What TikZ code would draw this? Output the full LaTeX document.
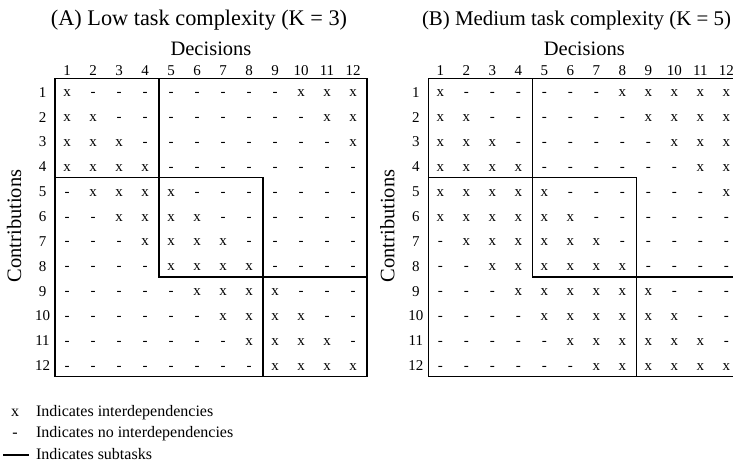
\documentclass[tikz,border=0pt]{standalone}
\usepackage{fontspec}
\setmainfont{Liberation Serif}
\newcommand\fsz[1]{\fontsize{#1}{#1}\selectfont}
\tikzset{
  allnode/.style={inner sep=0pt, outer sep=0pt},
  ttl/.style={allnode, anchor=base},
  dec/.style={allnode, anchor=base, font=\fsz{20.5}},
  contrib/.style={allnode, anchor=center, rotate=90, font=\fsz{20.5}},
  digit/.style={allnode, anchor=base, font=\fsz{15}},
  cell/.style={allnode, anchor=base, font=\fsz{15}},
  leg/.style={allnode, anchor=base, font=\fsz{16}},
  legtxt/.style={allnode, anchor=base west, font=\fsz{16}},
  box/.style={line width=1.5pt, line cap=rect},
  legline/.style={line width=1.7pt},
}
% #1 prefix, #2 left x, #3 title centre x, #4 title, #5 data
\newcommand\drawpanel[5]{%
  \node[ttl] (#1-title) at (#3,25) {#4};
  \node[dec] (#1-dec) at ({#2+156},55) {Decisions};
  \node[contrib] (#1-con) at ({#2-41},226) {Contributions};
  \foreach \k in {1,...,12} {
    \node[digit] (#1-h\k) at ({#2+26*\k-13-1},75) {\k};
  }
  \foreach \r in {1,...,12} {
    \node[digit] (#1-l\r) at ({#2-12.5},{78.3+24.85*\r-12.4+6.5}) {\r};
  }
  \foreach \row [count=\r] in {#5} {
    \foreach \v [count=\k] in \row {
      \node[cell] (#1-c\r-\k) at ({#2+26*\k-13-1},{78.3+24.85*\r-12.4+6}) {\v};
    }
  }
  \draw[box] (#2,78.3) rectangle ({#2+312},376.5);
  \draw[box] (#2,78.3) rectangle ({#2+104},{78.3+4*24.85});
  \draw[box] ({#2+104},{78.3+4*24.85}) rectangle ({#2+208},{78.3+8*24.85});
  \draw[box] ({#2+208},{78.3+8*24.85}) rectangle ({#2+312},376.5);
}
\begin{document}
\begin{tikzpicture}[x=1pt,y=-1pt]
\useasboundingbox (0,0) rectangle (733,469);
\clip (0,0) rectangle (733,469);
\drawpanel{A}{55}{199}{\fsz{22.3}(A) Low task complexity (K = 3)}{%
{x,-,-,-,-,-,-,-,-,x,x,x},
{x,x,-,-,-,-,-,-,-,-,x,x},
{x,x,x,-,-,-,-,-,-,-,-,x},
{x,x,x,x,-,-,-,-,-,-,-,-},
{-,x,x,x,x,-,-,-,-,-,-,-},
{-,-,x,x,x,x,-,-,-,-,-,-},
{-,-,-,x,x,x,x,-,-,-,-,-},
{-,-,-,-,x,x,x,x,-,-,-,-},
{-,-,-,-,-,x,x,x,x,-,-,-},
{-,-,-,-,-,-,x,x,x,x,-,-},
{-,-,-,-,-,-,-,x,x,x,x,-},
{-,-,-,-,-,-,-,-,x,x,x,x}}
\drawpanel{B}{428.3}{576.5}{\fsz{20.9}(B) Medium task complexity (K = 5)}{%
{x,-,-,-,-,-,-,x,x,x,x,x},
{x,x,-,-,-,-,-,-,x,x,x,x},
{x,x,x,-,-,-,-,-,-,x,x,x},
{x,x,x,x,-,-,-,-,-,-,x,x},
{x,x,x,x,x,-,-,-,-,-,-,x},
{x,x,x,x,x,x,-,-,-,-,-,-},
{-,x,x,x,x,x,x,-,-,-,-,-},
{-,-,x,x,x,x,x,x,-,-,-,-},
{-,-,-,x,x,x,x,x,x,-,-,-},
{-,-,-,-,x,x,x,x,x,x,-,-},
{-,-,-,-,-,x,x,x,x,x,x,-},
{-,-,-,-,-,-,x,x,x,x,x,x}}
% legend
\node[leg] (lgx) at (15,416) {x};
\node[legtxt] (lgxt) at (36,416) {Indicates interdependencies};
\node[leg] (lgd) at (15,437.5) {-};
\node[legtxt] (lgdt) at (36,437.5) {Indicates no interdependencies};
\coordinate (lgs) at (3.3,455);
\coordinate (lge) at (29.3,455);
\draw[legline] (lgs) -- (lge);
\node[legtxt] (lgst) at (36,459) {Indicates subtasks};
\end{tikzpicture}
\end{document}
